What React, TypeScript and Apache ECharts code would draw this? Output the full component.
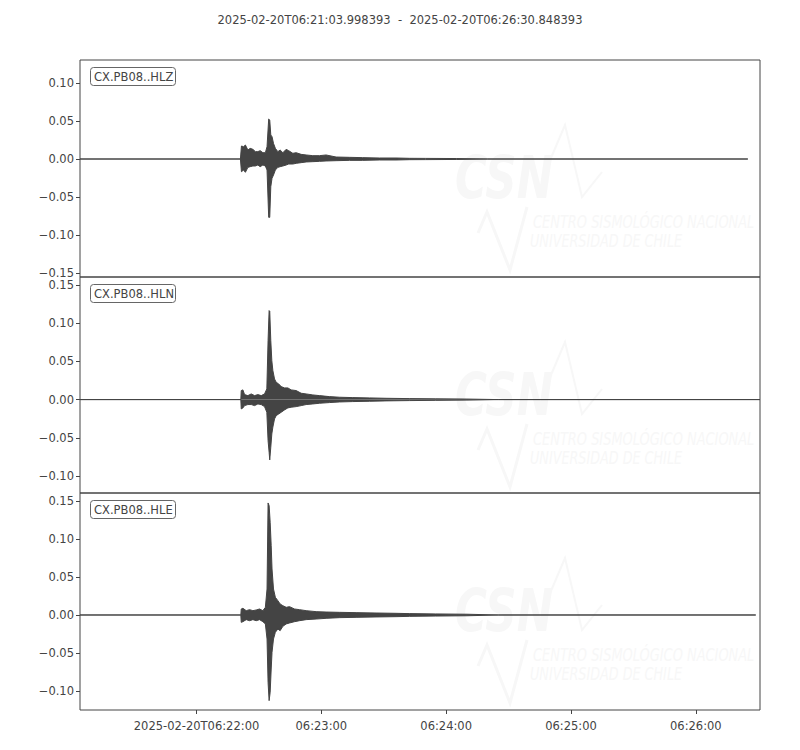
import React, { useEffect, useRef } from 'react';
import * as echarts from 'echarts';

// seconds after 06:21:00
const T_START = 3.998393;
const T_END = 330.848393;

const TITLE = '2025-02-20T06:21:03.998393  -  2025-02-20T06:26:30.848393';
const CHANNELS = ['CX.PB08..HLZ', 'CX.PB08..HLN', 'CX.PB08..HLE'];

const X_TICKS = [60, 120, 180, 240, 300];
const X_TICK_LABELS = ['2025-02-20T06:22:00', '06:23:00', '06:24:00', '06:25:00', '06:26:00'];

// envelope of each trace (time in s, upper / lower amplitude)
const HLZ_T = [81.1, 81.6, 82.6, 83.5, 84.7, 85.8, 87.1, 88.3, 89.5, 90.6, 91.9, 93.1, 93.9, 94.7, 95.2, 95.7, 96.3, 97.0, 97.9, 99.1, 100.2, 101.5, 103.1, 104.3, 106.3, 107.9, 110.3, 112.7, 115.9, 119.1, 122.3, 127.1, 133.5, 139.9, 147.9, 155.9, 162.3, 170, 185, 200];
const HLZ_UP = [0, 0.0171, 0.0162, 0.0184, 0.0118, 0.014, 0.0127, 0.0097, 0.0097, 0.011, 0.0083, 0.0083, 0.0162, 0.0526, 0.0513, 0.0316, 0.0294, 0.0206, 0.014, 0.0097, 0.0118, 0.0083, 0.0127, 0.011, 0.0075, 0.0083, 0.0061, 0.0053, 0.0044, 0.0044, 0.0053, 0.0026, 0.0022, 0.0018, 0.0013, 0.0013, 0.0009, 0.0008, 0.0006, 0];
const HLZ_LO = [0, -0.0167, -0.0145, -0.0175, -0.011, -0.0101, -0.0092, -0.0092, -0.0079, -0.0101, -0.0079, -0.0092, -0.0145, -0.0768, -0.0768, -0.0364, -0.0254, -0.0211, -0.0145, -0.011, -0.0101, -0.0092, -0.0079, -0.0066, -0.0066, -0.0057, -0.0048, -0.0039, -0.0035, -0.0031, -0.0026, -0.0022, -0.0018, -0.0018, -0.0013, -0.0013, -0.0009, -0.0008, -0.0006, 0];
const HLZ_END = 325.0;

const HLN_T = [81.3, 81.5, 82.3, 83.1, 84.7, 86.3, 87.9, 89.5, 91.1, 92.7, 93.8, 94.4, 94.9, 95.2, 95.7, 96.2, 96.7, 97.5, 98.3, 99.5, 100.7, 102.3, 103.9, 105.5, 107.9, 110.3, 112.7, 115.9, 119.1, 123.9, 128.7, 135.1, 143.1, 151.1, 162.3, 175, 190, 205];
const HLN_UP = [0, 0.0118, 0.0127, 0.0065, 0.0052, 0.0074, 0.0052, 0.0065, 0.0052, 0.0074, 0.014, 0.0772, 0.1165, 0.1156, 0.0772, 0.051, 0.038, 0.027, 0.0227, 0.0205, 0.017, 0.0153, 0.0153, 0.0127, 0.0118, 0.0083, 0.0074, 0.0061, 0.0052, 0.0039, 0.0031, 0.0026, 0.0022, 0.0017, 0.0013, 0.001, 0.0007, 0];
const HLN_LO = [0, -0.0122, -0.0109, -0.0079, -0.0065, -0.0065, -0.0079, -0.0057, -0.0065, -0.0092, -0.0166, -0.0537, -0.0689, -0.079, -0.0624, -0.045, -0.036, -0.0253, -0.021, -0.0188, -0.0166, -0.0135, -0.0109, -0.01, -0.0092, -0.0079, -0.0065, -0.0057, -0.0048, -0.0039, -0.0031, -0.0026, -0.0022, -0.0017, -0.0013, -0.001, -0.0007, 0];
const HLN_END = 330.848393;

const HLE_T = [81.3, 81.5, 82.3, 83.9, 85.5, 87.1, 88.7, 90.3, 91.9, 93.1, 93.9, 94.4, 94.9, 95.4, 95.9, 96.3, 97.0, 97.9, 99.1, 100.2, 101.5, 103.1, 104.7, 107.1, 109.5, 112.7, 117.5, 122.3, 128.7, 136.7, 146.3, 155.9, 162.3, 175, 190, 205];
const HLE_UP = [0, 0.0079, 0.0088, 0.0057, 0.007, 0.0057, 0.0066, 0.0079, 0.0057, 0.0101, 0.0342, 0.1474, 0.1439, 0.122, 0.0912, 0.0605, 0.0342, 0.0233, 0.0189, 0.0145, 0.0123, 0.0101, 0.011, 0.0079, 0.007, 0.0057, 0.0044, 0.0039, 0.0035, 0.0031, 0.0026, 0.0022, 0.0018, 0.0014, 0.001, 0];
const HLE_LO = [0, -0.0097, -0.0088, -0.0061, -0.0075, -0.0061, -0.0075, -0.0061, -0.0088, -0.0118, -0.0316, -0.0886, -0.1127, -0.1018, -0.0711, -0.0491, -0.0316, -0.0228, -0.0184, -0.0206, -0.0149, -0.0118, -0.0105, -0.0088, -0.0075, -0.0061, -0.0053, -0.0044, -0.0035, -0.0031, -0.0026, -0.0022, -0.0018, -0.0014, -0.001, 0];
const HLE_END = 328.8;

const Y_RANGES = [[-0.1553, 0.1303], [-0.1223, 0.1605], [-0.125, 0.1605]];
const Y_TICKS = [
  [-0.15, -0.1, -0.05, 0, 0.05, 0.1],
  [-0.1, -0.05, 0, 0.05, 0.1, 0.15],
  [-0.1, -0.05, 0, 0.05, 0.1, 0.15],
];

const TRACES = [
  { t: HLZ_T, up: HLZ_UP, lo: HLZ_LO, end: HLZ_END },
  { t: HLN_T, up: HLN_UP, lo: HLN_LO, end: HLN_END },
  { t: HLE_T, up: HLE_UP, lo: HLE_LO, end: HLE_END },
];

const INK = '#444444';
const FONT = 'DejaVu Sans';
const GRID_TOPS = [60, 277, 493];
const GRID_HEIGHTS = [217, 216, 217];

const envelope = (t: number[], v: number[], end: number) => [
  [T_START, 0],
  ...t.map((x, i) => [x, v[i]]),
  [end, 0],
];

// faint CSN logo behind each panel
const watermark = (o: number) => {
  const fill = '#f7f7f7';
  return [
    {
      type: 'text', x: 455, y: o + 147, scaleX: 0.75, z: 1, silent: true,
      style: { text: 'CSN', fill, font: 'italic bold 58px "DejaVu Sans"', verticalAlign: 'bottom' },
    },
    {
      type: 'polyline', z: 1, silent: true,
      shape: { points: [[548, o + 105], [565, o + 65], [582, o + 137], [602, o + 112]] },
      style: { stroke: fill, lineWidth: 2, fill: 'none' },
    },
    {
      type: 'polyline', z: 1, silent: true,
      shape: { points: [[478, o + 173], [487, o + 152], [510, o + 210], [527, o + 147]] },
      style: { stroke: fill, lineWidth: 3, fill: 'none' },
    },
    {
      type: 'text', x: 533, y: o + 171, scaleX: 0.72, z: 1, silent: true,
      style: { text: 'CENTRO SISMOLÓGICO NACIONAL', fill, font: 'italic 18px "DejaVu Sans"', verticalAlign: 'bottom' },
    },
    {
      type: 'text', x: 530, y: o + 190, scaleX: 0.71, z: 1, silent: true,
      style: { text: 'UNIVERSIDAD DE CHILE', fill, font: 'italic 18px "DejaVu Sans"', verticalAlign: 'bottom' },
    },
  ];
};

const App: React.FC = () => {
  const ref = useRef<HTMLDivElement>(null);

  useEffect(() => {
    document.body.style.margin = '0';
    if (!ref.current) return;
    const chart = echarts.init(ref.current, undefined, { renderer: 'svg' });

    const grid = GRID_TOPS.map((top, i) => ({
      left: 80, right: 40, top, height: GRID_HEIGHTS[i],
      show: true, borderColor: INK, borderWidth: 1, backgroundColor: 'transparent',
    }));

    const xAxis = GRID_TOPS.map((_, i) => ({
      gridIndex: i, type: 'value', min: T_START, max: T_END, position: 'bottom',
      axisLine: { show: false, onZero: false },
      splitLine: { show: false },
      axisTick: { show: i === 2, customValues: X_TICKS, length: 4, lineStyle: { color: INK } },
      axisLabel: {
        show: i === 2, customValues: X_TICKS, color: INK, fontSize: 11.5, fontFamily: FONT, margin: 10,
        formatter: (v: number) => X_TICK_LABELS[X_TICKS.indexOf(Math.round(v))] ?? '',
      },
    }));

    const yAxis = Y_RANGES.map(([min, max], i) => ({
      gridIndex: i, type: 'value', min, max, position: 'left',
      axisLine: { show: false, onZero: false },
      splitLine: { show: false },
      axisTick: { show: true, customValues: Y_TICKS[i], length: 4, lineStyle: { color: INK } },
      axisLabel: {
        customValues: Y_TICKS[i], color: INK, fontSize: 11.5, fontFamily: FONT, margin: 6, lineHeight: 11,
        formatter: (v: number) => v.toFixed(2).replace('-', '\u2212'),
      },
    }));

    const series: any[] = [];
    TRACES.forEach((tr, i) => {
      [tr.up, tr.lo].forEach((vals) => {
        series.push({
          type: 'line', xAxisIndex: i, yAxisIndex: i,
          data: envelope(tr.t, vals, tr.end),
          symbol: 'none', silent: true,
          lineStyle: { color: INK, width: 1 },
          areaStyle: { color: INK, opacity: 1, origin: 0 },
        });
      });
    });

    const labels = CHANNELS.flatMap((name, i) => [
      {
        type: 'rect', z: 10, silent: true,
        shape: { x: 90.5, y: GRID_TOPS[i] + 7.5, width: 85, height: 18, r: 3 },
        style: { fill: '#ffffff', stroke: '#666666', lineWidth: 1 },
      },
      {
        type: 'text', z: 11, silent: true, x: 94, y: GRID_TOPS[i] + 17,
        style: { text: name, fill: INK, fontSize: 11.5, fontFamily: FONT, verticalAlign: 'middle' },
      },
    ]);

    chart.setOption({
      animation: false,
      backgroundColor: '#ffffff',
      grid,
      xAxis,
      yAxis,
      series,
      graphic: [
        ...GRID_TOPS.flatMap((o) => watermark(o)),
        {
          type: 'text', x: 400, y: 20, silent: true,
          style: { text: TITLE, fill: INK, fontSize: 11.5, fontFamily: FONT, textAlign: 'center', verticalAlign: 'middle' },
        },
        ...labels,
      ],
    });

    return () => chart.dispose();
  }, []);

  return <div ref={ref} style={{ width: 800, height: 750 }} />;
};

export default App;
